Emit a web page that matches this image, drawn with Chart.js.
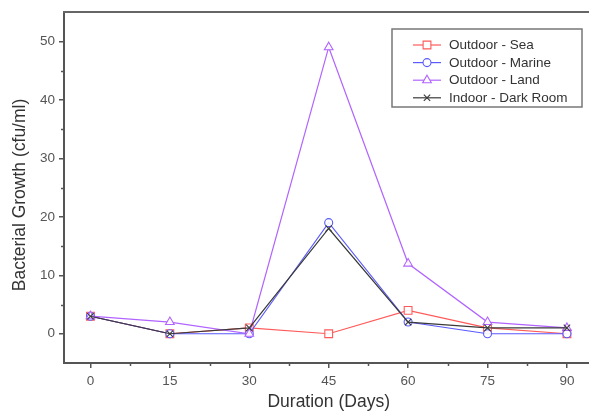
<!DOCTYPE html>
<html>
<head>
<meta charset="utf-8">
<script src="https://cdn.jsdelivr.net/npm/chart.js@4"></script>
<style>
  html,body{margin:0;padding:0;background:#fff;overflow:hidden;}
  #wrap{width:600px;height:413px;}
</style>
</head>
<body>
<div id="wrap"><canvas id="growthChart" width="600" height="413"></canvas></div>
<script>
  // ---------- Data ----------
  const days = [0, 15, 30, 45, 60, 75, 90];
  const seaValues = [3, 0, 1, 0, 4, 1, 0];
  const marineValues = [3, 0, 0, 19, 2, 0, 0];
  const landValues = [3, 2, 0, 49, 12, 2, 1];
  const darkRoomValues = [3, 0, 1, 18, 2, 1, 1];
  const seriesNames = ['Outdoor - Sea', 'Outdoor - Marine', 'Outdoor - Land', 'Indoor - Dark Room'];
  const xTickValues = [0, 15, 30, 45, 60, 75, 90];
  const yTickValues = [0, 10, 20, 30, 40, 50];
  const yTitle = 'Bacterial Growth (cfu/ml)';

  const toPoints = vals => days.map((d, i) => ({x: d, y: vals[i]}));

  const axisColor = '#555';
  const font = 'Liberation Sans, Arial, sans-serif';

  function series(label, vals, color, style, radius, order){
    return {
      label, data: toPoints(vals), order,
      borderColor: color, backgroundColor: '#fff',
      borderWidth: 1.2,
      pointStyle: style, pointRadius: radius, pointBorderWidth: 1.1,
      pointBorderColor: color, pointBackgroundColor: 'rgba(255,255,255,0.9)',
      tension: 0
    };
  }

  // minor ticks, top frame line, y title and boxed legend
  const framePlugin = {
    id: 'frame',
    afterDraw(chart){
      const {ctx, chartArea: a, scales: {x, y}} = chart;
      ctx.save();
      ctx.strokeStyle = axisColor;
      ctx.lineWidth = 1.5;
      // minor ticks
      for (let v = 7.5; v < 95; v += 15) {
        const px = Math.round(x.getPixelForValue(v)) + 0.5;
        ctx.beginPath(); ctx.moveTo(px, a.bottom); ctx.lineTo(px, a.bottom + 3); ctx.stroke();
      }
      for (let v = 5; v < 55; v += 10) {
        const py = Math.round(y.getPixelForValue(v)) + 0.5;
        ctx.beginPath(); ctx.moveTo(a.left, py); ctx.lineTo(a.left - 3, py); ctx.stroke();
      }
      // top frame
      ctx.lineWidth = 2;
      ctx.strokeStyle = '#666';
      ctx.beginPath(); ctx.moveTo(a.left - 1, a.top); ctx.lineTo(a.right + 5, a.top); ctx.stroke();

      // y axis title
      ctx.save();
      ctx.translate(20, 195);
      ctx.rotate(-Math.PI / 2);
      ctx.font = '17.5px ' + font;
      ctx.fillStyle = '#333';
      ctx.textAlign = 'center';
      ctx.textBaseline = 'middle';
      ctx.fillText(yTitle, 0, 0);
      ctx.restore();

      // legend box
      const bx = 392, by = 29, bw = 190, bh = 78;
      ctx.fillStyle = '#fff';
      ctx.fillRect(bx, by, bw, bh);
      ctx.strokeStyle = '#777';
      ctx.lineWidth = 1.5;
      ctx.strokeRect(bx, by, bw, bh);
      ctx.font = '13.5px ' + font;
      ctx.textBaseline = 'middle';
      chart.data.datasets.forEach((ds, i) => {
        const ly = 45 + i * 17.6;
        ctx.strokeStyle = ds.borderColor;
        ctx.lineWidth = 1.2;
        ctx.beginPath(); ctx.moveTo(413, ly); ctx.lineTo(441, ly); ctx.stroke();
        ctx.fillStyle = '#fff';
        ctx.lineWidth = 1.1;
        Chart.helpers.drawPoint(ctx, {
          pointStyle: ds.pointStyle, radius: ds.pointRadius, rotation: 0,
          borderWidth: 1.1
        }, 427, ly);
        ctx.fillStyle = '#333';
        ctx.fillText(ds.label, 449, ly + 0.5);
      });
      ctx.restore();
    }
  };

  new Chart(document.getElementById('growthChart'), {
    type: 'line',
    data: {
      datasets: [
        series(seriesNames[0], seaValues, '#ff5a5a', 'rect', 5.5, 3),
        series(seriesNames[1], marineValues, '#5a5aff', 'circle', 4, 2),
        series(seriesNames[2], landValues, '#b164ff', 'triangle', 5, 1),
        series(seriesNames[3], darkRoomValues, '#3a3a3a', 'crossRot', 4.5, 0)
      ]
    },
    options: {
      responsive: false,
      animation: false,
      layout: {padding: {top: 10, right: 3, left: 0, bottom: 0}},
      plugins: {legend: {display: false}, tooltip: {enabled: false}},
      scales: {
        x: {
          type: 'linear', min: -5, max: 95,
          afterBuildTicks: s => { s.ticks = xTickValues.map(v => ({value: v})); },
          afterFit: s => { s.height = 50; },
          grid: {drawOnChartArea: false, tickLength: 5, color: axisColor, lineWidth: 1.5},
          border: {color: axisColor, width: 2},
          ticks: {color: '#555', font: {family: font, size: 13.5}, padding: 5, maxRotation: 0},
          title: {display: true, text: 'Duration (Days)', color: '#333',
                  font: {family: font, size: 17.5}, padding: {top: 0, bottom: 0}}
        },
        y: {
          min: -5, max: 55,
          afterBuildTicks: s => { s.ticks = yTickValues.map(v => ({value: v})); },
          afterFit: s => { s.width = 64; },
          grid: {drawOnChartArea: false, tickLength: 5, color: axisColor, lineWidth: 1.5},
          border: {color: axisColor, width: 2},
          ticks: {color: '#555', font: {family: font, size: 13.5}, padding: 4}
        }
      }
    },
    plugins: [framePlugin]
  });
</script>
</body>
</html>
